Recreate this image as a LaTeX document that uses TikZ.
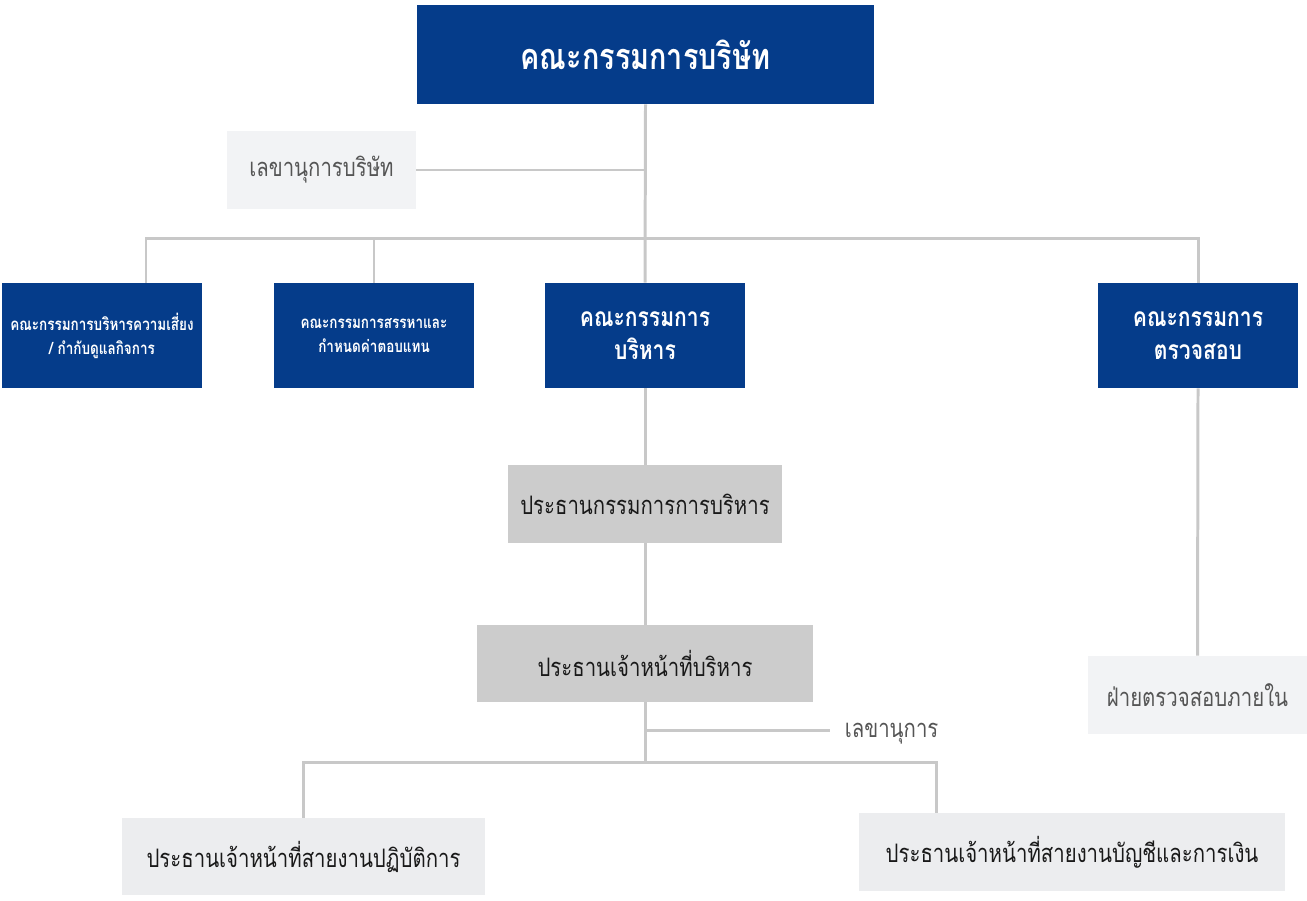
\documentclass[tikz,border=0pt]{standalone}
\usepackage{fontspec}
\newfontfamily\thaifont[Script=Thai,FakeStretch=0.8]{Loma}
\usetikzlibrary{positioning}
\definecolor{boardblue}{RGB}{5,60,138}
\definecolor{chairgray}{RGB}{204,204,204}
\definecolor{staffgray}{RGB}{242,243,245}
\definecolor{linkgray}{RGB}{200,200,200}
\definecolor{textgray}{RGB}{85,85,85}
\definecolor{textdark}{RGB}{25,25,25}
\tikzset{
  unit/.style={rectangle, inner sep=0pt, align=center},
  bluebox/.style={unit, fill=boardblue, text=white,
    font=\thaifont\bfseries\fontsize{15}{19}\selectfont,
    minimum width=4cm, minimum height=2.1cm},
  smallblue/.style={bluebox, font=\thaifont\bfseries\fontsize{9.6}{13.6}\selectfont},
  chairbox/.style={unit, fill=chairgray, text=textdark,
    font=\thaifont\fontsize{14.5}{18}\selectfont, minimum height=1.56cm},
  staffbox/.style={unit, fill=staffgray, text=textgray,
    font=\thaifont\fontsize{14.5}{18}\selectfont, minimum height=1.56cm},
  link/.style={draw=linkgray, line width=1.7pt},
}
\begin{document}
\begin{tikzpicture}[x=0.02cm, y=-0.02cm]
  \useasboundingbox (0,0) rectangle (1307,900);

  % Board
  \node[bluebox, minimum width=9.14cm, minimum height=1.98cm,
    font=\thaifont\bfseries\fontsize{20.5}{24}\selectfont] (board) at (645.5,54.5)
    {คณะกรรมการบริษัท};
  \node[staffbox, minimum width=3.78cm] (compsec) at (321.5,170) {เลขานุการบริษัท};

  % Committees
  \node[smallblue] (risk) at (102,335.5)
    {คณะกรรมการบริหารความเสี่ยง\\/ กำกับดูแลกิจการ};
  \node[smallblue] (nomination) at (374,335.5)
    {คณะกรรมการสรรหาและ\\กำหนดค่าตอบแทน};
  \node[bluebox] (execcom) at (645,335.5) {คณะกรรมการ\\บริหาร};
  \node[bluebox] (audit) at (1198,335.5) {คณะกรรมการ\\ตรวจสอบ};

  % Management
  \node[chairbox, minimum width=5.48cm] (chair) at (645,504) {ประธานกรรมการการบริหาร};
  \node[chairbox, minimum width=6.72cm, minimum height=1.54cm] (ceo) at (645,663.5)
    {ประธานเจ้าหน้าที่บริหาร};
  \node[unit, text=textgray, font=\thaifont\fontsize{14.5}{18}\selectfont,
    anchor=west, inner xsep=2pt] (ceosec) at (841,734) {เลขานุการ};
  \node[staffbox, minimum width=4.38cm] (internal) at (1197.5,695) {ฝ่ายตรวจสอบภายใน};
  \node[staffbox, fill=staffgray!95!gray, text=textdark, minimum width=7.26cm,
    minimum height=1.54cm] (ops) at (303.5,856.5) {ประธานเจ้าหน้าที่สายงานปฏิบัติการ};
  \node[staffbox, fill=staffgray!95!gray, text=textdark, minimum width=8.52cm]
    (finance) at (1072,852) {ประธานเจ้าหน้าที่สายงานบัญชีและการเงิน};

  % Connectors
  \coordinate (bus) at (645,238);
  \coordinate (riskjoin) at (146,238);
  \coordinate (bus2) at (645,762);
  \coordinate (secjoin) at (645,730);
  \coordinate (finjoin) at (936,762);
  \draw[link] (board.south) -- (execcom.north);
  \draw[link] (compsec.east) -- (compsec.east -| board.south);
  \draw[link] (riskjoin |- risk.north) -- (riskjoin) -| (audit.north);
  \draw[link] (nomination.north) -- (nomination.north |- bus);
  \draw[link] (execcom) -- (chair);
  \draw[link] (chair) -- (ceo);
  \draw[link] (ceo.south) -- (bus2);
  \draw[link] (secjoin) -- ([xshift=-6pt]ceosec.west |- secjoin);
  \draw[link] (ops.north) |- (finjoin) -- (finjoin |- finance.north);
  \draw[link] (audit.south) -- (internal.north);
\end{tikzpicture}
\end{document}
